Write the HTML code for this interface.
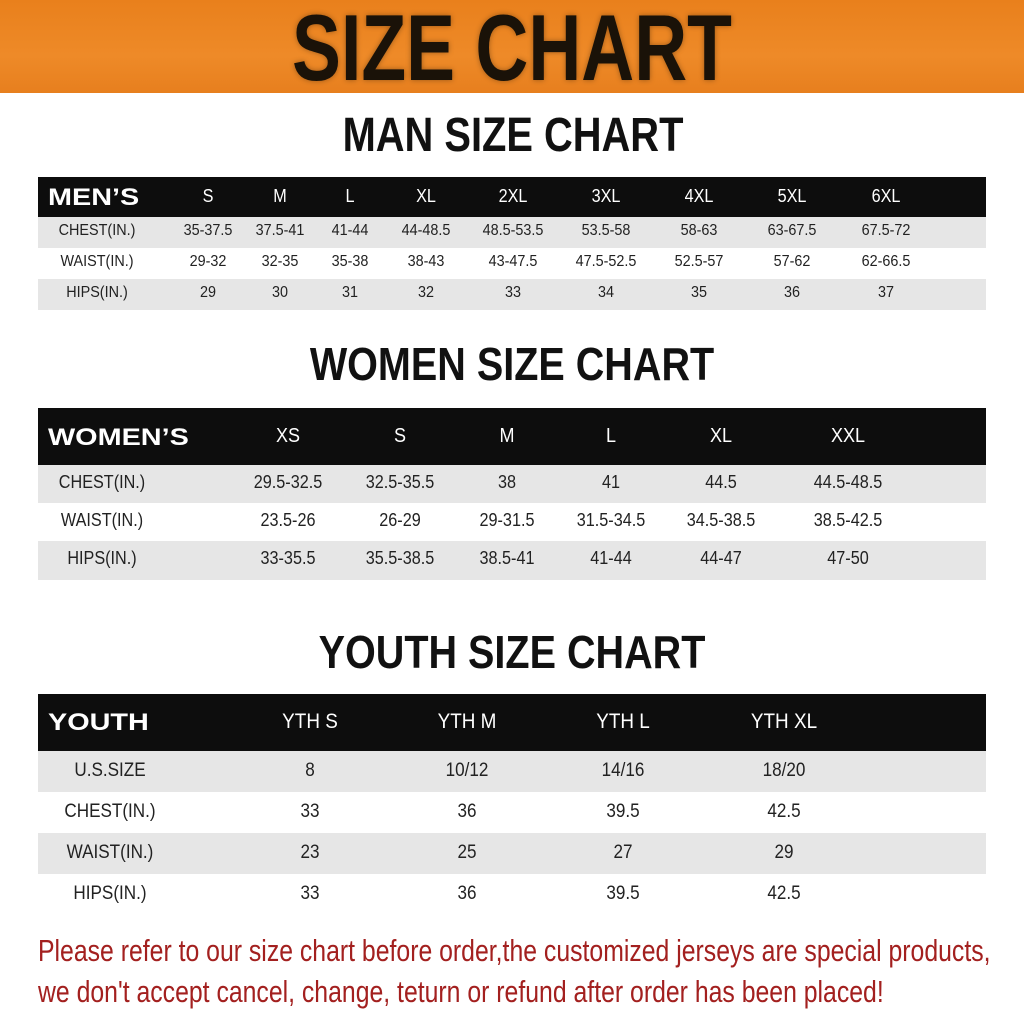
<!DOCTYPE html>
<html><head><meta charset="utf-8"><style>
body{margin:0;width:1024px;height:1019px;background:#fff;position:relative;overflow:hidden;font-family:"Liberation Sans",sans-serif}
.a{position:absolute;white-space:nowrap}
.t{font-weight:bold;color:#111;transform:translateX(-50%) scaleX(0.86);transform-origin:center}
.bar{position:absolute;left:38px;width:948px}
.cell{position:absolute;transform:translateX(-50%) scaleX(0.9);color:#222;white-space:nowrap}
.h{color:#fff}
.lab{position:absolute;left:48px;color:#fff;font-weight:bold;font-size:24px;transform:scaleX(1.2);transform-origin:left;white-space:nowrap}
</style></head><body>
<div class="a" style="left:0;top:0;width:1024px;height:93px;background:linear-gradient(#e9801c,#ee8a28 60%,#e77f1e)"></div>
<div class="a t" style="left:512px;top:-6px;font-size:94px;color:#1a1208;transform:translateX(-50%) scaleX(0.78);text-shadow:0 0 6px rgba(0,0,0,.35)">SIZE CHART</div>
<div class="a t" style="left:513px;top:108px;font-size:48px;transform:translateX(-50%) scaleX(0.83)">MAN SIZE CHART</div>
<div class="a t" style="left:512px;top:337px;font-size:46px">WOMEN SIZE CHART</div>
<div class="a t" style="left:512px;top:625px;font-size:46px">YOUTH SIZE CHART</div>

<div class="bar" style="top:177px;height:40px;background:#0d0d0d"></div>
<div class="bar" style="top:217px;height:31px;background:#e6e6e6"></div>
<div class="bar" style="top:279px;height:31px;background:#e6e6e6"></div>

<div class="bar" style="top:408px;height:57px;background:#0d0d0d"></div>
<div class="bar" style="top:465px;height:38px;background:#e6e6e6"></div>
<div class="bar" style="top:541px;height:39px;background:#e6e6e6"></div>

<div class="bar" style="top:694px;height:57px;background:#0d0d0d"></div>
<div class="bar" style="top:751px;height:41px;background:#e6e6e6"></div>
<div class="bar" style="top:833px;height:41px;background:#e6e6e6"></div>

<div class="lab" style="top:184px">MEN’S</div>
<div class="lab" style="top:424px">WOMEN’S</div>
<div class="lab" style="top:709px">YOUTH</div>
<script>
function put(x,y,txt,size,cls){var d=document.createElement('div');d.className='cell '+(cls||'');d.style.left=x+'px';d.style.top=y+'px';d.style.fontSize=size+'px';d.textContent=txt;document.body.appendChild(d);}
var mc=[208,280,350,426,513,606,699,792,886];
["S","M","L","XL","2XL","3XL","4XL","5XL","6XL"].forEach((t,i)=>put(mc[i],186,t,18,'h'));
var mr=[["CHEST(IN.)","35-37.5","37.5-41","41-44","44-48.5","48.5-53.5","53.5-58","58-63","63-67.5","67.5-72"],
["WAIST(IN.)","29-32","32-35","35-38","38-43","43-47.5","47.5-52.5","52.5-57","57-62","62-66.5"],
["HIPS(IN.)","29","30","31","32","33","34","35","36","37"]];
mr.forEach((r,j)=>{var y=222+j*31;put(97,y,r[0],16);for(var i=1;i<10;i++)put(mc[i-1],y,r[i],16);});
var wc=[288,400,507,611,721,848];
["XS","S","M","L","XL","XXL"].forEach((t,i)=>put(wc[i],425,t,20,'h'));
var wr=[["CHEST(IN.)","29.5-32.5","32.5-35.5","38","41","44.5","44.5-48.5"],
["WAIST(IN.)","23.5-26","26-29","29-31.5","31.5-34.5","34.5-38.5","38.5-42.5"],
["HIPS(IN.)","33-35.5","35.5-38.5","38.5-41","41-44","44-47","47-50"]];
wr.forEach((r,j)=>{var y=472+j*38;put(102,y,r[0],18);for(var i=1;i<7;i++)put(wc[i-1],y,r[i],18);});
var yc=[310,467,623,784];
["YTH S","YTH M","YTH L","YTH XL"].forEach((t,i)=>put(yc[i],710,t,21,'h'));
var yr=[["U.S.SIZE","8","10/12","14/16","18/20"],["CHEST(IN.)","33","36","39.5","42.5"],["WAIST(IN.)","23","25","27","29"],["HIPS(IN.)","33","36","39.5","42.5"]];
yr.forEach((r,j)=>{var y=760+j*41;put(110,y,r[0],19);for(var i=1;i<5;i++)put(yc[i-1],y,r[i],19);});
</script>
<div class="a" style="left:38px;top:933px;font-size:31px;color:#a3201f;transform:scaleX(0.8);transform-origin:left">Please refer to our size chart before order,the customized jerseys are special products,</div>
<div class="a" style="left:38px;top:974px;font-size:31px;color:#a3201f;transform:scaleX(0.8);transform-origin:left">we don't accept cancel, change, teturn or refund after order has been placed!</div>
</body></html>
